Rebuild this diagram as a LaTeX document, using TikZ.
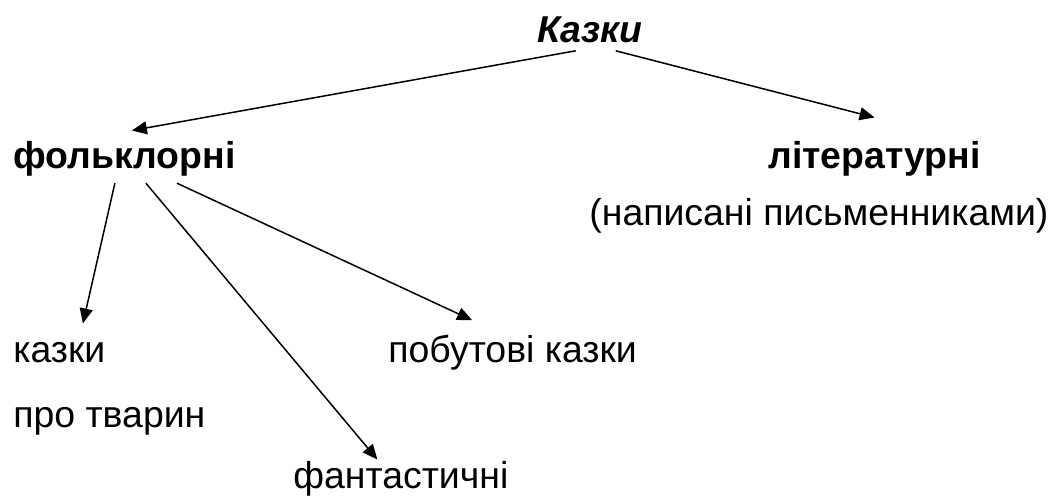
\documentclass[tikz,border=0pt]{standalone}
\usepackage{fontspec}
\setmainfont{Liberation Sans}
\usetikzlibrary{arrows.meta}

\begin{document}
\begin{tikzpicture} [x=0.5pt,y=-0.5pt]
\tikzset{
 word/.style={anchor=base west, inner sep=0, font=\fontsize{18.7}{23}\selectfont},
 arr/.style={black, line width=0.75pt, -{Triangle[length=7.5pt,width=6.5pt]}}
}
\useasboundingbox (0,0) rectangle (1050,495);
\node[word, font=\fontsize{18.7}{23}\selectfont\bfseries\itshape] (kazky) at (537,42) {Казки};
\node[word, font=\fontsize{18.7}{23}\selectfont\bfseries] (folk) at (13,168) {фольклорні};
\node[word, font=\fontsize{18.7}{23}\selectfont\bfseries] (lit) at (768,168) {літературні};
\node[word] (pysm) at (589,225) {(написані письменниками)};
\node[word] (tvar1) at (13,362) {казки};
\node[word] (tvar2) at (13,427) {про тварин};
\node[word] (pobut) at (388,362) {побутові казки};
\node[word] (fant) at (293,488) {фантастичні};
\draw[arr] ([xshift=-7pt,yshift=-4pt]kazky.south) -- ([xshift=3.75pt,yshift=5pt]folk.north);
\draw[arr] ([xshift=13pt,yshift=-4pt]kazky.south) -- ([yshift=11.5pt]lit.north);
\foreach \s/\t/\dx/\dy in {-4.75/tvar1/11.75/9, 10.75/fant/-11.75/0.5, 26.25/pobut/-20.25/7}
 \draw[arr] ([xshift=\s pt,yshift=-3.5pt]folk.south) -- ([xshift=\dx pt,yshift=\dy pt]\t.north);
\end{tikzpicture}
\end{document}
